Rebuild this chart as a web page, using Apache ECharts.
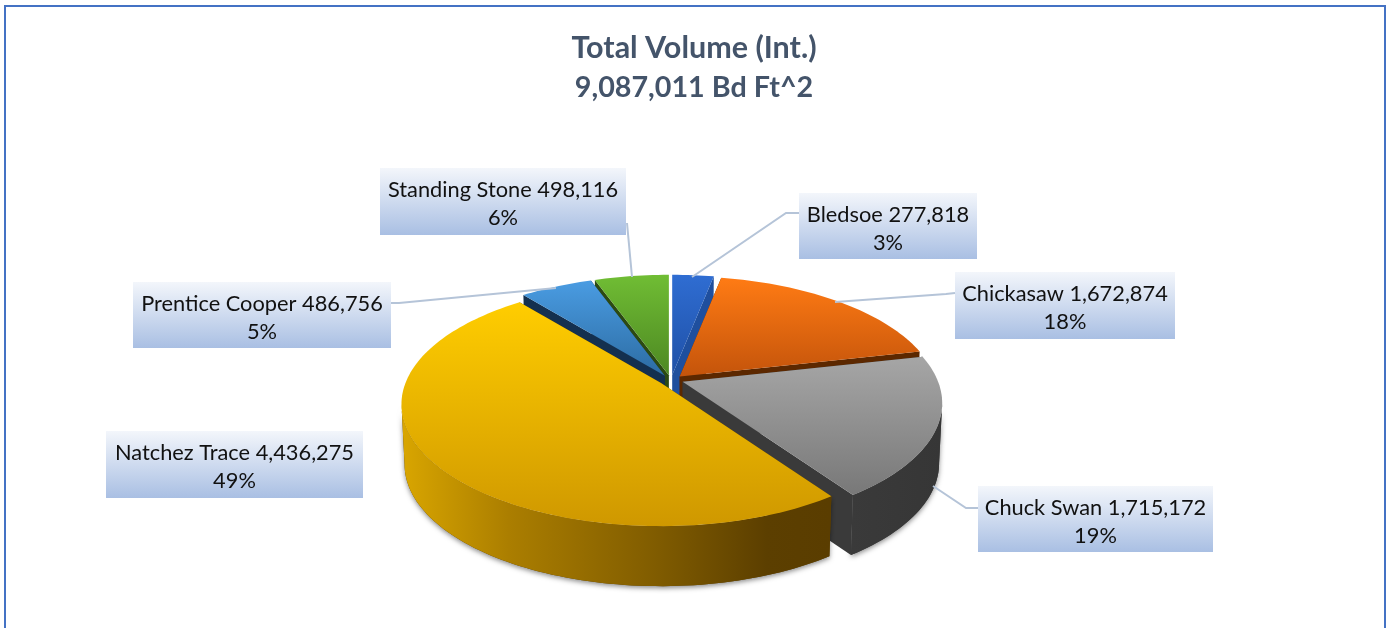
<!DOCTYPE html>
<html><head><meta charset="utf-8">
<style>html,body{margin:0;padding:0;background:#fff}#c{width:1388px;height:628px}</style>
<script src="https://cdn.jsdelivr.net/npm/echarts@6/dist/echarts.min.js"></script>
</head><body><div id="c"></div>
<script>
const categories = ['Bledsoe','Chickasaw','Chuck Swan','Natchez Trace','Prentice Cooper','Standing Stone'];
const volumes = [277818,1672874,1715172,4436275,486756,498116];
const percentLabels = ['3%','18%','19%','49%','5%','6%'];
const titleLines = ['Total Volume (Int.)','9,087,011 Bd Ft^2'];

// layout and style, separate from the data
const paintOrder = [3,4,5,6,2,1]; // z rank per category index (back to front)
const topColors = [['#2f6dd2','#1f50a6'],['#ff7b14','#c4540b'],['#a6a6a6','#787878'],['#ffcd00','#cf9800'],['#4a9ce2','#2c6ca3'],['#70bd34','#4d8822']];
const cutColors = ['#1f4f9e','#5c2800','#3a3a3a','#5c3f00','#14304f','#2c4a12'];
const wallStops = [
  [[0,'#1f4f9e'],[1,'#1f4f9e']],
  [[0,'#8a3d05'],[1,'#8a3d05']],
  [[0,'#3a3a3a'],[1,'#363636']],
  [[0,'#d9a600'],[0.25,'#ab7e00'],[0.6,'#7f5b00'],[0.85,'#5c3f00'],[1,'#5a3d00']],
  [[0,'#14304f'],[1,'#14304f']],
  [[0,'#2c4a12'],[1,'#2c4a12']]
];
const boxes = [[799,193,178,66],[955,272,220,67],[978,486,235,66],[106,431,257,67],[133,282,258,66],[380,168,246,67]];
const leaders = [
  [[799,213],[786,213],[692,277]],
  [[955,293],[946,294],[835,302]],
  [[978,508],[966,508],[933,486]],
  [],
  [[391,303],[399,303],[556,288]],
  [[627,223],[632,277]]
];
const CX=671, CY=380, A=255.5, B=118, P=0.176, DEPTH=60, SHRINK=0.988, EA=12.5, EB=4.9;
const WALL_START=Math.acos(-P), WALL_END=2*Math.PI-WALL_START;

const total = volumes.reduce((a,b)=>a+b,0);
function fmt(n){return n.toLocaleString('en-US');}
function sliceAngles(i){
  let s=0; for(let k=0;k<i;k++) s+=volumes[k];
  return [s/total*2*Math.PI,(s+volumes[i])/total*2*Math.PI];
}
function proj(th,r,mid,low){
  const u=r*Math.sin(th), v=-r*Math.cos(th), w=1-P*v;
  let X=A*u/w, Y=B*v/w;
  if(low){X*=SHRINK; Y+=DEPTH;}
  return [CX+EA*Math.sin(mid)+X, CY-EB*Math.cos(mid)+Y];
}
function arc(a,b,mid,low){
  const n=Math.max(6,Math.round((b-a)*40)), pts=[];
  for(let k=0;k<=n;k++) pts.push(proj(a+(b-a)*k/n,1,mid,low));
  return pts;
}
function renderSlice(params,api){
  const i=api.value(0);
  const [a0,a1]=sliceAngles(i), mid=(a0+a1)/2, z=paintOrder[i]*10;
  const tip=proj(0,0,mid,false), tipLow=proj(0,0,mid,true);
  const LG=echarts.graphic.LinearGradient;
  const rimTop=arc(a0,a1,mid,false);
  const children=[
    {type:'polygon',z2:z+1,shape:{points:[tip,proj(a0,1,mid,false),proj(a0,1,mid,true),tipLow]},style:{fill:cutColors[i]}},
    {type:'polygon',z2:z+1,shape:{points:[tip,proj(a1,1,mid,false),proj(a1,1,mid,true),tipLow]},style:{fill:cutColors[i]}},
    {type:'polygon',z2:z+3,shape:{points:[tip].concat(rimTop)},
     style:{fill:new LG(0,0,0,1,[{offset:0,color:topColors[i][0]},{offset:1,color:topColors[i][1]}])}}
  ];
  const w0=Math.max(a0,WALL_START), w1=Math.min(a1,WALL_END);
  if(w1>w0){
    const wall=arc(w0,w1,mid,false).concat(arc(w0,w1,mid,true).reverse());
    // soft drop shadow sits behind the slice; the wall itself carries none
    children.push({type:'polygon',z2:z,shape:{points:wall},
      style:{fill:cutColors[i],shadowColor:'rgba(0,0,0,0.45)',shadowBlur:5,shadowOffsetY:2}});
    children.push({type:'polygon',z2:z+2,shape:{points:wall},
      style:{fill:new LG(0,0,1,0,wallStops[i].map(s=>({offset:s[0],color:s[1]})))}});
  }
  return {type:'group',children};
}
function renderLabel(params,api){
  const i=api.value(0), b=boxes[i];
  const font='Lato, "Open Sans", sans-serif', cx=b[0]+b[2]/2;
  const LG=echarts.graphic.LinearGradient;
  const children=[
    {type:'rect',z2:100,shape:{x:b[0],y:b[1],width:b[2],height:b[3]},
     style:{fill:new LG(0,0,0,1,[{offset:0,color:'#f3f6fb'},{offset:1,color:'#a9bfe3'}])}},
    {type:'text',z2:102,style:{text:categories[i]+' '+fmt(api.value(1)),x:cx,y:b[1]+22,textAlign:'center',textVerticalAlign:'middle',
      fontFamily:font,fontSize:21.8,fill:'#111'}},
    {type:'text',z2:102,style:{text:percentLabels[i],x:cx,y:b[1]+50,textAlign:'center',textVerticalAlign:'middle',
      fontFamily:font,fontSize:21.8,fill:'#111'}}
  ];
  if(leaders[i].length){
    children.push({type:'polyline',z2:101,shape:{points:leaders[i]},style:{stroke:'#b5c4d8',lineWidth:2,fill:'none'}});
  }
  return {type:'group',children};
}
const chart=echarts.init(document.getElementById('c'),null,{renderer:'canvas'});
const rows=volumes.map((v,i)=>[i,v]);
const titleStyle={fontFamily:'Lato, "Open Sans", sans-serif',fontWeight:'bold',color:'#44546a'};
chart.setOption({
  animation:false,
  backgroundColor:'#fff',
  title:[
    {text:titleLines[0],left:'center',top:28,textStyle:Object.assign({fontSize:30.5},titleStyle)},
    {text:titleLines[1],left:'center',top:68,textStyle:Object.assign({fontSize:28.7},titleStyle)}
  ],
  graphic:[{type:'rect',silent:true,shape:{x:5,y:6,width:1380,height:700},style:{fill:'none',stroke:'#4472c4',lineWidth:2}}],
  series:[
    {type:'custom',coordinateSystem:'none',renderItem:renderSlice,data:rows,silent:true,z:2},
    {type:'custom',coordinateSystem:'none',renderItem:renderLabel,data:rows,silent:true,z:3}
  ]
});
</script></body></html>
